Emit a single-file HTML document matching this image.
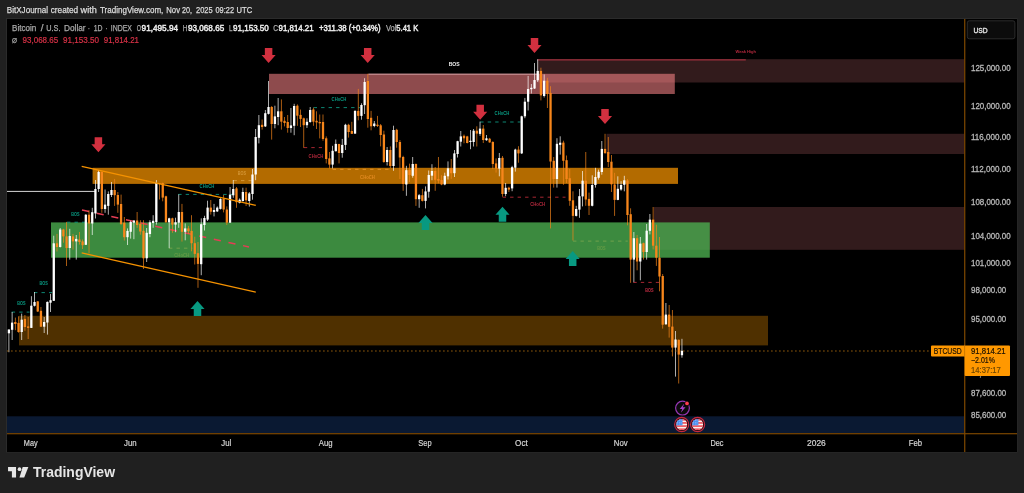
<!DOCTYPE html>
<html lang="en">
<head>
<meta charset="utf-8">
<title>BTCUSD chart</title>
<style>
html,body{margin:0;padding:0;background:#202020;}
body{width:1024px;height:493px;overflow:hidden;position:relative;font-family:"Liberation Sans",sans-serif;}
svg{position:absolute;left:0;top:0;display:block;}
text{font-family:"Liberation Sans",sans-serif;}
.hd{font-size:8.7px;fill:#dcdcdc;stroke:#dcdcdc;stroke-width:0.25px;}
.lg{font-size:8.6px;fill:#a8a8a8;stroke:#a8a8a8;stroke-width:0.25px;}
.lv{font-size:8.6px;fill:#ededed;stroke:#ededed;stroke-width:0.45px;}
.lr{font-size:8.6px;fill:#d93247;stroke:#d93247;stroke-width:0.2px;}
.ax{font-size:8.7px;fill:#b8b8b8;stroke:#b8b8b8;stroke-width:0.3px;}
.tx{font-size:8.3px;fill:#d4d4d4;stroke:#d4d4d4;stroke-width:0.2px;text-anchor:middle;}
.sm{font-size:4.5px;text-anchor:middle;font-weight:bold;}
.pl{font-size:8.7px;fill:#1c1200;stroke:#1c1200;stroke-width:0.2px;}
</style>
</head>
<body>
<svg width="1024" height="493" viewBox="0 0 1024 493">

<rect x="0" y="0" width="1024" height="493" fill="#202020"/>
<rect x="6" y="18" width="1011.5" height="434.5" fill="#2b2b2b"/>
<rect x="7" y="19" width="1010" height="433" fill="#000"/>
<text class="hd" y="12.9"> <tspan x="6.8" textLength="41.3" lengthAdjust="spacingAndGlyphs">BitXJournal</tspan> <tspan x="50.7" textLength="27.5" lengthAdjust="spacingAndGlyphs">created</tspan> <tspan x="80.6" textLength="16.2" lengthAdjust="spacingAndGlyphs">with</tspan> <tspan x="100" textLength="63.3" lengthAdjust="spacingAndGlyphs">TradingView.com,</tspan> <tspan x="166.3" textLength="13.7" lengthAdjust="spacingAndGlyphs">Nov</tspan> <tspan x="182" textLength="10" lengthAdjust="spacingAndGlyphs">20,</tspan> <tspan x="196" textLength="16.6" lengthAdjust="spacingAndGlyphs">2025</tspan> <tspan x="215.5" textLength="18.5" lengthAdjust="spacingAndGlyphs">09:22</tspan> <tspan x="236.6" textLength="15.6" lengthAdjust="spacingAndGlyphs">UTC</tspan> </text>
<g>
<rect x="537.5" y="59.2" width="427" height="23.3" fill="#321b1c"/>
<rect x="606.5" y="133.8" width="358" height="20.2" fill="#321b1c"/>
<rect x="653.8" y="207" width="310.7" height="42.8" fill="#321b1c"/>
<rect x="537.5" y="59.2" width="208.3" height="1.3" fill="#9a2f3b"/>
<rect x="269" y="73.8" width="405.8" height="20.2" fill="#ff868a" fill-opacity="0.556"/>
<rect x="368.4" y="73.7" width="168.8" height="0.9" fill="#dcaaac"/>
<rect x="92.6" y="167.8" width="585.4" height="16.1" fill="#b36b00"/>
<rect x="51" y="222.4" width="658.8" height="35.3" fill="#4caf50" fill-opacity="0.79"/>
<rect x="19" y="315.8" width="749" height="29.6" fill="#4f3000"/>
<rect x="7" y="416.3" width="957.5" height="17" fill="#0a1932"/>
</g>
<rect x="7" y="190.9" width="88" height="1" fill="#d4d4d4"/>
<line x1="11.7" y1="312.1" x2="29.5" y2="312.1" stroke="#10a890" stroke-width="0.8" stroke-dasharray="3.4 4.1" stroke-opacity="1.0"/>
<text class="sm" x="21.4" y="304.9" fill="#089981" fill-opacity="1.0" textLength="8.3" lengthAdjust="spacingAndGlyphs">BOS</text>
<line x1="34" y1="292.6" x2="52.2" y2="292.6" stroke="#10a890" stroke-width="0.8" stroke-dasharray="3.4 4.1" stroke-opacity="1.0"/>
<text class="sm" x="43.7" y="285.4" fill="#089981" fill-opacity="1.0" textLength="8.3" lengthAdjust="spacingAndGlyphs">BOS</text>
<line x1="67" y1="222.2" x2="85.5" y2="222.2" stroke="#10a890" stroke-width="0.8" stroke-dasharray="3.4 4.1" stroke-opacity="1.0"/>
<text class="sm" x="75.4" y="215.6" fill="#089981" fill-opacity="1.0" textLength="8.3" lengthAdjust="spacingAndGlyphs">BOS</text>
<line x1="178.2" y1="194.4" x2="232" y2="194.4" stroke="#10a890" stroke-width="0.8" stroke-dasharray="3.4 4.1" stroke-opacity="1.0"/>
<text class="sm" x="207" y="188.1" fill="#089981" fill-opacity="1.0" textLength="14.8" lengthAdjust="spacingAndGlyphs">CHoCH</text>
<line x1="233.5" y1="180.6" x2="252" y2="180.6" stroke="#e0a64a" stroke-width="0.8" stroke-dasharray="3.4 4.1" stroke-opacity="0.9"/>
<text class="sm" x="242" y="174.6" fill="#d79a3a" fill-opacity="0.9" textLength="8.3" lengthAdjust="spacingAndGlyphs">BOS</text>
<line x1="169" y1="248.2" x2="192.4" y2="248.2" stroke="#8fae52" stroke-width="0.8" stroke-dasharray="3.4 4.1" stroke-opacity="0.8"/>
<text class="sm" x="181.7" y="257.3" fill="#7fa64a" fill-opacity="0.6" textLength="14.8" lengthAdjust="spacingAndGlyphs">CHoCH</text>
<line x1="313.6" y1="107.6" x2="360" y2="107.6" stroke="#10a890" stroke-width="0.8" stroke-dasharray="3.4 4.1" stroke-opacity="1.0"/>
<text class="sm" x="339" y="100.8" fill="#089981" fill-opacity="1.0" textLength="14.8" lengthAdjust="spacingAndGlyphs">CHoCH</text>
<line x1="303.8" y1="147.6" x2="322" y2="147.6" stroke="#d2303f" stroke-width="0.8" stroke-dasharray="3.4 4.1" stroke-opacity="1.0"/>
<text class="sm" x="316" y="157.6" fill="#b3283c" fill-opacity="1.0" textLength="14.8" lengthAdjust="spacingAndGlyphs">CHoCH</text>
<line x1="332.6" y1="169.3" x2="390.4" y2="169.3" stroke="#f09a30" stroke-width="0.8" stroke-dasharray="3.4 4.1" stroke-opacity="1.0"/>
<text class="sm" x="367.5" y="179.1" fill="#e28a20" fill-opacity="1.0" textLength="14.8" lengthAdjust="spacingAndGlyphs">CHoCH</text>
<line x1="480.2" y1="122" x2="520.5" y2="122" stroke="#10a890" stroke-width="0.8" stroke-dasharray="3.4 4.1" stroke-opacity="1.0"/>
<text class="sm" x="502" y="114.7" fill="#089981" fill-opacity="1.0" textLength="14.8" lengthAdjust="spacingAndGlyphs">CHoCH</text>
<line x1="502.6" y1="197.2" x2="565.5" y2="197.2" stroke="#d2303f" stroke-width="0.8" stroke-dasharray="3.4 4.1" stroke-opacity="1.0"/>
<text class="sm" x="537.6" y="206.3" fill="#b3283c" fill-opacity="1.0" textLength="14.8" lengthAdjust="spacingAndGlyphs">CHoCH</text>
<line x1="573" y1="241.1" x2="627.8" y2="241.1" stroke="#8fae52" stroke-width="0.8" stroke-dasharray="3.4 4.1" stroke-opacity="0.8"/>
<text class="sm" x="601.4" y="250.1" fill="#7fa64a" fill-opacity="0.6" textLength="8.3" lengthAdjust="spacingAndGlyphs">BOS</text>
<line x1="633.3" y1="282.4" x2="659" y2="282.4" stroke="#d2303f" stroke-width="0.8" stroke-dasharray="3.4 4.1" stroke-opacity="1.0"/>
<text class="sm" x="649.3" y="292.1" fill="#c22c42" fill-opacity="1.0" textLength="8.3" lengthAdjust="spacingAndGlyphs">BOS</text>
<text class="sm" x="454.2" y="66.4" fill="#f2f2f2" style="font-size:5.5px;font-weight:bold" textLength="11" lengthAdjust="spacingAndGlyphs">BOS</text>
<text class="sm" x="745.8" y="53.2" fill="#b3283c" style="font-size:4px">Weak High</text>
<line x1="82" y1="210" x2="249" y2="247" stroke="#e63d55" stroke-width="1.4" stroke-dasharray="7.2 7.8"/>
<g><rect x="8.5" y="329.5" width="0.8" height="22.7" fill="#ffffff" fill-opacity="0.85"/><rect x="11.71" y="312" width="0.8" height="28" fill="#ffffff" fill-opacity="0.85"/><rect x="14.91" y="317.6" width="0.8" height="12.6" fill="#f7861b" fill-opacity="0.85"/><rect x="18.12" y="316.3" width="0.8" height="16.4" fill="#f7861b" fill-opacity="0.85"/><rect x="21.32" y="313.6" width="0.8" height="26.4" fill="#ffffff" fill-opacity="0.85"/><rect x="24.52" y="315" width="0.8" height="15.8" fill="#f7861b" fill-opacity="0.85"/><rect x="27.73" y="317" width="0.8" height="22" fill="#f7861b" fill-opacity="0.85"/><rect x="30.94" y="296.2" width="0.8" height="31.8" fill="#ffffff" fill-opacity="0.85"/><rect x="34.14" y="292" width="0.8" height="14.5" fill="#ffffff" fill-opacity="0.85"/><rect x="37.34" y="301" width="0.8" height="11" fill="#f7861b" fill-opacity="0.85"/><rect x="40.55" y="307" width="0.8" height="20" fill="#f7861b" fill-opacity="0.85"/><rect x="43.76" y="317" width="0.8" height="16" fill="#ffffff" fill-opacity="0.85"/><rect x="46.96" y="301.5" width="0.8" height="33.1" fill="#ffffff" fill-opacity="0.85"/><rect x="50.16" y="293.9" width="0.8" height="18.1" fill="#ffffff" fill-opacity="0.85"/><rect x="53.37" y="235.7" width="0.8" height="65.3" fill="#ffffff" fill-opacity="0.85"/><rect x="56.58" y="233.9" width="0.8" height="17.6" fill="#f7861b" fill-opacity="0.85"/><rect x="59.78" y="228" width="0.8" height="19.5" fill="#ffffff" fill-opacity="0.85"/><rect x="62.98" y="228.8" width="0.8" height="13.9" fill="#f7861b" fill-opacity="0.85"/><rect x="66.19" y="221.9" width="0.8" height="44.1" fill="#f7861b" fill-opacity="0.85"/><rect x="69.39" y="228.8" width="0.8" height="30.8" fill="#ffffff" fill-opacity="0.85"/><rect x="72.6" y="233.9" width="0.8" height="15.7" fill="#f7861b" fill-opacity="0.85"/><rect x="75.81" y="235" width="0.8" height="24.6" fill="#ffffff" fill-opacity="0.85"/><rect x="79.01" y="232" width="0.8" height="12.6" fill="#f7861b" fill-opacity="0.85"/><rect x="82.22" y="239.5" width="0.8" height="9.5" fill="#f7861b" fill-opacity="0.85"/><rect x="85.42" y="214.2" width="0.8" height="30.8" fill="#ffffff" fill-opacity="0.85"/><rect x="88.62" y="210.3" width="0.8" height="43.1" fill="#f7861b" fill-opacity="0.85"/><rect x="91.83" y="207.8" width="0.8" height="27.2" fill="#ffffff" fill-opacity="0.85"/><rect x="95.03" y="180" width="0.8" height="38.5" fill="#ffffff" fill-opacity="0.85"/><rect x="98.24" y="170" width="0.8" height="22" fill="#ffffff" fill-opacity="0.85"/><rect x="101.45" y="171.3" width="0.8" height="41.5" fill="#f7861b" fill-opacity="0.85"/><rect x="104.65" y="189.5" width="0.8" height="23.3" fill="#ffffff" fill-opacity="0.85"/><rect x="107.86" y="191.4" width="0.8" height="23.3" fill="#ffffff" fill-opacity="0.85"/><rect x="111.06" y="182" width="0.8" height="15" fill="#ffffff" fill-opacity="0.85"/><rect x="114.27" y="178.9" width="0.8" height="27" fill="#f7861b" fill-opacity="0.85"/><rect x="117.47" y="192" width="0.8" height="20.8" fill="#f7861b" fill-opacity="0.85"/><rect x="120.67" y="194.6" width="0.8" height="30.4" fill="#f7861b" fill-opacity="0.85"/><rect x="123.88" y="217" width="0.8" height="23.5" fill="#f7861b" fill-opacity="0.85"/><rect x="127.09" y="228.4" width="0.8" height="16.6" fill="#ffffff" fill-opacity="0.85"/><rect x="130.29" y="220.8" width="0.8" height="17.8" fill="#ffffff" fill-opacity="0.85"/><rect x="133.5" y="220.2" width="0.8" height="19" fill="#ffffff" fill-opacity="0.85"/><rect x="136.7" y="212" width="0.8" height="15.8" fill="#f7861b" fill-opacity="0.85"/><rect x="139.91" y="220.2" width="0.8" height="14.5" fill="#f7861b" fill-opacity="0.85"/><rect x="143.11" y="220.2" width="0.8" height="48.8" fill="#f7861b" fill-opacity="0.85"/><rect x="146.31" y="228" width="0.8" height="34" fill="#ffffff" fill-opacity="0.85"/><rect x="149.52" y="220.2" width="0.8" height="17" fill="#ffffff" fill-opacity="0.85"/><rect x="152.72" y="215.2" width="0.8" height="12.6" fill="#ffffff" fill-opacity="0.85"/><rect x="155.93" y="180.1" width="0.8" height="44.5" fill="#ffffff" fill-opacity="0.85"/><rect x="159.13" y="183" width="0.8" height="16.5" fill="#f7861b" fill-opacity="0.85"/><rect x="162.34" y="182.5" width="0.8" height="18.8" fill="#f7861b" fill-opacity="0.85"/><rect x="165.55" y="195.7" width="0.8" height="27" fill="#f7861b" fill-opacity="0.85"/><rect x="168.75" y="217.7" width="0.8" height="30.5" fill="#ffffff" fill-opacity="0.85"/><rect x="171.96" y="217.7" width="0.8" height="15.1" fill="#f7861b" fill-opacity="0.85"/><rect x="175.16" y="217.7" width="0.8" height="14.5" fill="#ffffff" fill-opacity="0.85"/><rect x="178.37" y="194.4" width="0.8" height="33.4" fill="#ffffff" fill-opacity="0.85"/><rect x="181.57" y="203.9" width="0.8" height="37.7" fill="#f7861b" fill-opacity="0.85"/><rect x="184.78" y="223.4" width="0.8" height="16.9" fill="#ffffff" fill-opacity="0.85"/><rect x="187.98" y="225.9" width="0.8" height="8.1" fill="#f7861b" fill-opacity="0.85"/><rect x="191.19" y="215.2" width="0.8" height="36.1" fill="#f7861b" fill-opacity="0.85"/><rect x="194.39" y="236.7" width="0.8" height="27.8" fill="#f7861b" fill-opacity="0.85"/><rect x="197.59" y="242" width="0.8" height="45.8" fill="#f7861b" fill-opacity="0.85"/><rect x="200.8" y="218.3" width="0.8" height="56.9" fill="#ffffff" fill-opacity="0.85"/><rect x="204" y="215.8" width="0.8" height="14.7" fill="#ffffff" fill-opacity="0.85"/><rect x="207.21" y="200.7" width="0.8" height="20.3" fill="#ffffff" fill-opacity="0.85"/><rect x="210.41" y="200" width="0.8" height="14.6" fill="#f7861b" fill-opacity="0.85"/><rect x="213.62" y="203.9" width="0.8" height="12.5" fill="#ffffff" fill-opacity="0.85"/><rect x="216.83" y="206.4" width="0.8" height="5.6" fill="#ffffff" fill-opacity="0.85"/><rect x="220.03" y="198.2" width="0.8" height="11.3" fill="#ffffff" fill-opacity="0.85"/><rect x="223.24" y="195" width="0.8" height="17.4" fill="#f7861b" fill-opacity="0.85"/><rect x="226.44" y="206.4" width="0.8" height="18.6" fill="#f7861b" fill-opacity="0.85"/><rect x="229.65" y="187" width="0.8" height="36" fill="#ffffff" fill-opacity="0.85"/><rect x="232.85" y="180" width="0.8" height="17.8" fill="#ffffff" fill-opacity="0.85"/><rect x="236.06" y="187" width="0.8" height="20.8" fill="#f7861b" fill-opacity="0.85"/><rect x="239.26" y="198.4" width="0.8" height="5" fill="#ffffff" fill-opacity="0.85"/><rect x="242.47" y="187.7" width="0.8" height="13.9" fill="#ffffff" fill-opacity="0.85"/><rect x="245.67" y="187.7" width="0.8" height="18.3" fill="#f7861b" fill-opacity="0.85"/><rect x="248.88" y="192" width="0.8" height="14.6" fill="#ffffff" fill-opacity="0.85"/><rect x="252.08" y="168.9" width="0.8" height="30.8" fill="#ffffff" fill-opacity="0.85"/><rect x="255.28" y="129" width="0.8" height="51.2" fill="#ffffff" fill-opacity="0.85"/><rect x="258.49" y="115" width="0.8" height="28.4" fill="#ffffff" fill-opacity="0.85"/><rect x="261.69" y="119.5" width="0.8" height="10.1" fill="#f7861b" fill-opacity="0.85"/><rect x="264.9" y="110" width="0.8" height="17" fill="#ffffff" fill-opacity="0.85"/><rect x="268.11" y="81" width="0.8" height="33.5" fill="#ffffff" fill-opacity="0.85"/><rect x="271.31" y="106" width="0.8" height="33.6" fill="#f7861b" fill-opacity="0.85"/><rect x="274.51" y="105.7" width="0.8" height="22.6" fill="#ffffff" fill-opacity="0.85"/><rect x="277.72" y="98" width="0.8" height="27.2" fill="#ffffff" fill-opacity="0.85"/><rect x="280.93" y="99.4" width="0.8" height="30.2" fill="#f7861b" fill-opacity="0.85"/><rect x="284.13" y="117" width="0.8" height="9.4" fill="#f7861b" fill-opacity="0.85"/><rect x="287.33" y="115" width="0.8" height="17.7" fill="#f7861b" fill-opacity="0.85"/><rect x="290.54" y="108" width="0.8" height="24.7" fill="#ffffff" fill-opacity="0.85"/><rect x="293.75" y="103.8" width="0.8" height="31.4" fill="#ffffff" fill-opacity="0.85"/><rect x="296.95" y="104.4" width="0.8" height="21.4" fill="#f7861b" fill-opacity="0.85"/><rect x="300.16" y="109.5" width="0.8" height="17.5" fill="#f7861b" fill-opacity="0.85"/><rect x="303.36" y="117.6" width="0.8" height="30.2" fill="#f7861b" fill-opacity="0.85"/><rect x="306.56" y="118.3" width="0.8" height="9.7" fill="#ffffff" fill-opacity="0.85"/><rect x="309.77" y="107" width="0.8" height="15.7" fill="#ffffff" fill-opacity="0.85"/><rect x="312.98" y="107.6" width="0.8" height="18.2" fill="#f7861b" fill-opacity="0.85"/><rect x="316.18" y="111.3" width="0.8" height="17.7" fill="#f7861b" fill-opacity="0.85"/><rect x="319.38" y="114.5" width="0.8" height="23.9" fill="#f7861b" fill-opacity="0.85"/><rect x="322.59" y="114.5" width="0.8" height="26.3" fill="#f7861b" fill-opacity="0.85"/><rect x="325.8" y="136.4" width="0.8" height="27" fill="#f7861b" fill-opacity="0.85"/><rect x="329" y="152" width="0.8" height="16.4" fill="#f7861b" fill-opacity="0.85"/><rect x="332.2" y="145.8" width="0.8" height="22.6" fill="#ffffff" fill-opacity="0.85"/><rect x="335.41" y="139.5" width="0.8" height="12" fill="#ffffff" fill-opacity="0.85"/><rect x="338.62" y="143.8" width="0.8" height="19.6" fill="#f7861b" fill-opacity="0.85"/><rect x="341.82" y="138.9" width="0.8" height="18.8" fill="#ffffff" fill-opacity="0.85"/><rect x="345.03" y="123.8" width="0.8" height="26.2" fill="#ffffff" fill-opacity="0.85"/><rect x="348.23" y="123.8" width="0.8" height="13.8" fill="#f7861b" fill-opacity="0.85"/><rect x="351.44" y="121.8" width="0.8" height="12.2" fill="#f7861b" fill-opacity="0.85"/><rect x="354.64" y="110.3" width="0.8" height="23.7" fill="#ffffff" fill-opacity="0.85"/><rect x="357.85" y="88.9" width="0.8" height="31.4" fill="#f7861b" fill-opacity="0.85"/><rect x="361.05" y="103.3" width="0.8" height="16.4" fill="#ffffff" fill-opacity="0.85"/><rect x="364.25" y="78.2" width="0.8" height="35.8" fill="#ffffff" fill-opacity="0.85"/><rect x="367.46" y="73.8" width="0.8" height="53.9" fill="#f7861b" fill-opacity="0.85"/><rect x="370.67" y="110.9" width="0.8" height="19.4" fill="#f7861b" fill-opacity="0.85"/><rect x="373.87" y="121" width="0.8" height="6.2" fill="#ffffff" fill-opacity="0.85"/><rect x="377.07" y="115.9" width="0.8" height="11.1" fill="#f7861b" fill-opacity="0.85"/><rect x="380.28" y="124" width="0.8" height="22.4" fill="#f7861b" fill-opacity="0.85"/><rect x="383.49" y="130.7" width="0.8" height="32.1" fill="#f7861b" fill-opacity="0.85"/><rect x="386.69" y="147" width="0.8" height="18.5" fill="#ffffff" fill-opacity="0.85"/><rect x="389.89" y="146.4" width="0.8" height="21.6" fill="#f7861b" fill-opacity="0.85"/><rect x="393.1" y="125.7" width="0.8" height="45.1" fill="#ffffff" fill-opacity="0.85"/><rect x="396.31" y="128.8" width="0.8" height="18.9" fill="#f7861b" fill-opacity="0.85"/><rect x="399.51" y="140" width="0.8" height="39" fill="#f7861b" fill-opacity="0.85"/><rect x="402.72" y="155.8" width="0.8" height="35" fill="#f7861b" fill-opacity="0.85"/><rect x="405.92" y="165.8" width="0.8" height="30" fill="#ffffff" fill-opacity="0.85"/><rect x="409.12" y="163.6" width="0.8" height="18.4" fill="#f7861b" fill-opacity="0.85"/><rect x="412.33" y="157" width="0.8" height="20.7" fill="#ffffff" fill-opacity="0.85"/><rect x="415.54" y="163.5" width="0.8" height="42.4" fill="#f7861b" fill-opacity="0.85"/><rect x="418.74" y="194" width="0.8" height="13.8" fill="#ffffff" fill-opacity="0.85"/><rect x="421.94" y="188.9" width="0.8" height="12.6" fill="#f7861b" fill-opacity="0.85"/><rect x="425.15" y="186.4" width="0.8" height="22" fill="#ffffff" fill-opacity="0.85"/><rect x="428.36" y="170.5" width="0.8" height="27.2" fill="#ffffff" fill-opacity="0.85"/><rect x="431.56" y="164.2" width="0.8" height="16" fill="#ffffff" fill-opacity="0.85"/><rect x="434.76" y="167" width="0.8" height="23.8" fill="#f7861b" fill-opacity="0.85"/><rect x="437.97" y="157" width="0.8" height="26.3" fill="#f7861b" fill-opacity="0.85"/><rect x="441.18" y="175.2" width="0.8" height="10" fill="#f7861b" fill-opacity="0.85"/><rect x="444.38" y="172.7" width="0.8" height="12.5" fill="#ffffff" fill-opacity="0.85"/><rect x="447.59" y="161.4" width="0.8" height="18.1" fill="#ffffff" fill-opacity="0.85"/><rect x="450.79" y="159" width="0.8" height="19.9" fill="#f7861b" fill-opacity="0.85"/><rect x="454" y="150" width="0.8" height="27" fill="#ffffff" fill-opacity="0.85"/><rect x="457.2" y="140.8" width="0.8" height="16.7" fill="#ffffff" fill-opacity="0.85"/><rect x="460.41" y="131" width="0.8" height="15.5" fill="#ffffff" fill-opacity="0.85"/><rect x="463.61" y="134.5" width="0.8" height="8.8" fill="#f7861b" fill-opacity="0.85"/><rect x="466.81" y="135.8" width="0.8" height="7.6" fill="#f7861b" fill-opacity="0.85"/><rect x="470.02" y="130" width="0.8" height="19.2" fill="#ffffff" fill-opacity="0.85"/><rect x="473.23" y="129" width="0.8" height="17.5" fill="#ffffff" fill-opacity="0.85"/><rect x="476.43" y="126.3" width="0.8" height="20.2" fill="#f7861b" fill-opacity="0.85"/><rect x="479.63" y="121.6" width="0.8" height="14.2" fill="#ffffff" fill-opacity="0.85"/><rect x="482.84" y="125" width="0.8" height="18" fill="#f7861b" fill-opacity="0.85"/><rect x="486.05" y="135" width="0.8" height="5.8" fill="#ffffff" fill-opacity="0.85"/><rect x="489.25" y="137.9" width="0.8" height="4.8" fill="#f7861b" fill-opacity="0.85"/><rect x="492.45" y="141.2" width="0.8" height="27.8" fill="#f7861b" fill-opacity="0.85"/><rect x="495.66" y="158.4" width="0.8" height="14.2" fill="#f7861b" fill-opacity="0.85"/><rect x="498.87" y="153" width="0.8" height="23.3" fill="#ffffff" fill-opacity="0.85"/><rect x="502.07" y="156" width="0.8" height="40.7" fill="#f7861b" fill-opacity="0.85"/><rect x="505.28" y="183" width="0.8" height="13.2" fill="#ffffff" fill-opacity="0.85"/><rect x="508.48" y="186.7" width="0.8" height="5.3" fill="#f7861b" fill-opacity="0.85"/><rect x="511.69" y="165.8" width="0.8" height="25.4" fill="#ffffff" fill-opacity="0.85"/><rect x="514.89" y="148.7" width="0.8" height="22.9" fill="#ffffff" fill-opacity="0.85"/><rect x="518.1" y="146.2" width="0.8" height="16.5" fill="#f7861b" fill-opacity="0.85"/><rect x="521.3" y="115.7" width="0.8" height="38.3" fill="#ffffff" fill-opacity="0.85"/><rect x="524.5" y="97.9" width="0.8" height="20.3" fill="#ffffff" fill-opacity="0.85"/><rect x="527.71" y="75.9" width="0.8" height="34.6" fill="#ffffff" fill-opacity="0.85"/><rect x="530.91" y="84" width="0.8" height="9.5" fill="#ffffff" fill-opacity="0.85"/><rect x="534.12" y="63" width="0.8" height="26" fill="#ffffff" fill-opacity="0.85"/><rect x="537.33" y="59.3" width="0.8" height="22.7" fill="#ffffff" fill-opacity="0.85"/><rect x="540.53" y="67.7" width="0.8" height="32.7" fill="#f7861b" fill-opacity="0.85"/><rect x="543.74" y="74.4" width="0.8" height="23.1" fill="#ffffff" fill-opacity="0.85"/><rect x="546.94" y="77.8" width="0.8" height="30.2" fill="#f7861b" fill-opacity="0.85"/><rect x="550.14" y="86.2" width="0.8" height="142.2" fill="#f7861b" fill-opacity="0.85"/><rect x="553.35" y="157" width="0.8" height="30.6" fill="#f7861b" fill-opacity="0.85"/><rect x="556.56" y="138.2" width="0.8" height="49.4" fill="#ffffff" fill-opacity="0.85"/><rect x="559.76" y="136.3" width="0.8" height="18.3" fill="#ffffff" fill-opacity="0.85"/><rect x="562.97" y="140.7" width="0.8" height="44.1" fill="#f7861b" fill-opacity="0.85"/><rect x="566.17" y="155.5" width="0.8" height="27.5" fill="#f7861b" fill-opacity="0.85"/><rect x="569.38" y="169" width="0.8" height="36.8" fill="#f7861b" fill-opacity="0.85"/><rect x="572.58" y="191.3" width="0.8" height="49.2" fill="#f7861b" fill-opacity="0.85"/><rect x="575.78" y="205.8" width="0.8" height="10.7" fill="#ffffff" fill-opacity="0.85"/><rect x="578.99" y="189" width="0.8" height="28.8" fill="#ffffff" fill-opacity="0.85"/><rect x="582.2" y="171" width="0.8" height="35.4" fill="#ffffff" fill-opacity="0.85"/><rect x="585.4" y="152" width="0.8" height="53.8" fill="#f7861b" fill-opacity="0.85"/><rect x="588.61" y="192.6" width="0.8" height="22.4" fill="#f7861b" fill-opacity="0.85"/><rect x="591.81" y="175.3" width="0.8" height="31.1" fill="#ffffff" fill-opacity="0.85"/><rect x="595.01" y="167.8" width="0.8" height="19.8" fill="#ffffff" fill-opacity="0.85"/><rect x="598.22" y="169.6" width="0.8" height="10" fill="#ffffff" fill-opacity="0.85"/><rect x="601.43" y="141" width="0.8" height="33.7" fill="#ffffff" fill-opacity="0.85"/><rect x="604.63" y="133.8" width="0.8" height="20.2" fill="#f7861b" fill-opacity="0.85"/><rect x="607.84" y="137" width="0.8" height="30" fill="#f7861b" fill-opacity="0.85"/><rect x="611.04" y="155" width="0.8" height="37" fill="#f7861b" fill-opacity="0.85"/><rect x="614.25" y="172.8" width="0.8" height="43.1" fill="#f7861b" fill-opacity="0.85"/><rect x="617.45" y="176.3" width="0.8" height="23.9" fill="#ffffff" fill-opacity="0.85"/><rect x="620.65" y="181.2" width="0.8" height="9.5" fill="#ffffff" fill-opacity="0.85"/><rect x="623.86" y="175.8" width="0.8" height="15.5" fill="#ffffff" fill-opacity="0.85"/><rect x="627.07" y="179" width="0.8" height="46.3" fill="#f7861b" fill-opacity="0.85"/><rect x="630.27" y="208.3" width="0.8" height="74.5" fill="#f7861b" fill-opacity="0.85"/><rect x="633.48" y="232" width="0.8" height="50.2" fill="#ffffff" fill-opacity="0.85"/><rect x="636.68" y="235" width="0.8" height="35.3" fill="#f7861b" fill-opacity="0.85"/><rect x="639.88" y="237" width="0.8" height="43.3" fill="#ffffff" fill-opacity="0.85"/><rect x="643.09" y="242.6" width="0.8" height="17" fill="#f7861b" fill-opacity="0.85"/><rect x="646.29" y="224" width="0.8" height="35.6" fill="#ffffff" fill-opacity="0.85"/><rect x="649.5" y="214" width="0.8" height="20.4" fill="#ffffff" fill-opacity="0.85"/><rect x="652.71" y="207" width="0.8" height="42.5" fill="#f7861b" fill-opacity="0.85"/><rect x="655.91" y="224.7" width="0.8" height="41.2" fill="#f7861b" fill-opacity="0.85"/><rect x="659.12" y="237" width="0.8" height="54.3" fill="#f7861b" fill-opacity="0.85"/><rect x="662.32" y="274" width="0.8" height="54.6" fill="#f7861b" fill-opacity="0.85"/><rect x="665.52" y="303" width="0.8" height="21.7" fill="#ffffff" fill-opacity="0.85"/><rect x="668.73" y="305" width="0.8" height="32.6" fill="#f7861b" fill-opacity="0.85"/><rect x="671.94" y="310" width="0.8" height="46.4" fill="#f7861b" fill-opacity="0.85"/><rect x="675.14" y="331" width="0.8" height="45.6" fill="#ffffff" fill-opacity="0.85"/><rect x="678.35" y="339.5" width="0.8" height="44" fill="#f7861b" fill-opacity="0.85"/><rect x="681.55" y="338.8" width="0.8" height="18.9" fill="#ffffff" fill-opacity="0.85"/></g>
<g><rect x="7.75" y="329.5" width="2.3" height="3.8" fill="#ffffff"/><rect x="10.96" y="322.6" width="2.3" height="7.2" fill="#ffffff"/><rect x="14.16" y="322" width="2.3" height="2" fill="#f7861b"/><rect x="17.37" y="322.9" width="2.3" height="9.1" fill="#f7861b"/><rect x="20.57" y="319.7" width="2.3" height="12.3" fill="#ffffff"/><rect x="23.77" y="318.9" width="2.3" height="8.1" fill="#f7861b"/><rect x="26.98" y="326.4" width="2.3" height="1.5" fill="#f7861b"/><rect x="30.19" y="305.7" width="2.3" height="22.2" fill="#ffffff"/><rect x="33.39" y="302" width="2.3" height="3.8" fill="#ffffff"/><rect x="36.59" y="301.4" width="2.3" height="10.1" fill="#f7861b"/><rect x="39.8" y="310.8" width="2.3" height="15.9" fill="#f7861b"/><rect x="43.01" y="322" width="2.3" height="4.7" fill="#ffffff"/><rect x="46.21" y="301.9" width="2.3" height="20.6" fill="#ffffff"/><rect x="49.41" y="300.2" width="2.3" height="2.5" fill="#ffffff"/><rect x="52.62" y="243.3" width="2.3" height="57.5" fill="#ffffff"/><rect x="55.83" y="243.3" width="2.3" height="3.7" fill="#f7861b"/><rect x="59.03" y="229.5" width="2.3" height="17.5" fill="#ffffff"/><rect x="62.23" y="229.5" width="2.3" height="6.9" fill="#f7861b"/><rect x="65.44" y="236.4" width="2.3" height="11.6" fill="#f7861b"/><rect x="68.64" y="236" width="2.3" height="12" fill="#ffffff"/><rect x="71.85" y="236.4" width="2.3" height="5" fill="#f7861b"/><rect x="75.06" y="238.9" width="2.3" height="2.5" fill="#ffffff"/><rect x="78.26" y="239.5" width="2.3" height="2.5" fill="#f7861b"/><rect x="81.47" y="241.4" width="2.3" height="3.8" fill="#f7861b"/><rect x="84.67" y="214.7" width="2.3" height="30.1" fill="#ffffff"/><rect x="87.88" y="214.7" width="2.3" height="8.8" fill="#f7861b"/><rect x="91.08" y="212.2" width="2.3" height="11.3" fill="#ffffff"/><rect x="94.28" y="189" width="2.3" height="24.4" fill="#ffffff"/><rect x="97.49" y="172" width="2.3" height="17" fill="#ffffff"/><rect x="100.7" y="172" width="2.3" height="37" fill="#f7861b"/><rect x="103.9" y="204.6" width="2.3" height="4.4" fill="#ffffff"/><rect x="107.11" y="194" width="2.3" height="11.9" fill="#ffffff"/><rect x="110.31" y="190" width="2.3" height="5" fill="#ffffff"/><rect x="113.52" y="190" width="2.3" height="5.2" fill="#f7861b"/><rect x="116.72" y="195" width="2.3" height="9.6" fill="#f7861b"/><rect x="119.92" y="204" width="2.3" height="20" fill="#f7861b"/><rect x="123.13" y="222.7" width="2.3" height="14.5" fill="#f7861b"/><rect x="126.34" y="230.9" width="2.3" height="6.3" fill="#ffffff"/><rect x="129.54" y="222" width="2.3" height="9.8" fill="#ffffff"/><rect x="132.75" y="220.5" width="2.3" height="2.2" fill="#ffffff"/><rect x="135.95" y="220.5" width="2.3" height="4.5" fill="#f7861b"/><rect x="139.16" y="224" width="2.3" height="7.5" fill="#f7861b"/><rect x="142.36" y="230.9" width="2.3" height="27.4" fill="#f7861b"/><rect x="145.56" y="232.8" width="2.3" height="25.5" fill="#ffffff"/><rect x="148.77" y="222.3" width="2.3" height="11.7" fill="#ffffff"/><rect x="151.97" y="220.8" width="2.3" height="2.2" fill="#ffffff"/><rect x="155.18" y="183" width="2.3" height="39" fill="#ffffff"/><rect x="158.38" y="183" width="2.3" height="1.2" fill="#f7861b"/><rect x="161.59" y="183" width="2.3" height="14.6" fill="#f7861b"/><rect x="164.8" y="196.3" width="2.3" height="26" fill="#f7861b"/><rect x="168" y="218.3" width="2.3" height="4" fill="#ffffff"/><rect x="171.21" y="218.3" width="2.3" height="6.3" fill="#f7861b"/><rect x="174.41" y="222.3" width="2.3" height="2.3" fill="#ffffff"/><rect x="177.62" y="212" width="2.3" height="10.7" fill="#ffffff"/><rect x="180.82" y="212" width="2.3" height="19.8" fill="#f7861b"/><rect x="184.03" y="228.4" width="2.3" height="3.4" fill="#ffffff"/><rect x="187.23" y="228.4" width="2.3" height="2.9" fill="#f7861b"/><rect x="190.44" y="230.9" width="2.3" height="12.3" fill="#f7861b"/><rect x="193.64" y="243.2" width="2.3" height="10.7" fill="#f7861b"/><rect x="196.84" y="253.2" width="2.3" height="10.7" fill="#f7861b"/><rect x="200.05" y="224.2" width="2.3" height="40" fill="#ffffff"/><rect x="203.25" y="218" width="2.3" height="7" fill="#ffffff"/><rect x="206.46" y="207.6" width="2.3" height="12" fill="#ffffff"/><rect x="209.66" y="207.6" width="2.3" height="4.1" fill="#f7861b"/><rect x="212.87" y="210" width="2.3" height="2" fill="#ffffff"/><rect x="216.08" y="207.6" width="2.3" height="3.8" fill="#ffffff"/><rect x="219.28" y="199" width="2.3" height="9.9" fill="#ffffff"/><rect x="222.49" y="199" width="2.3" height="10.5" fill="#f7861b"/><rect x="225.69" y="209.5" width="2.3" height="13.2" fill="#f7861b"/><rect x="228.9" y="194.6" width="2.3" height="28.1" fill="#ffffff"/><rect x="232.1" y="189" width="2.3" height="6.3" fill="#ffffff"/><rect x="235.31" y="188.4" width="2.3" height="13.8" fill="#f7861b"/><rect x="238.51" y="199.7" width="2.3" height="3.1" fill="#ffffff"/><rect x="241.72" y="192" width="2.3" height="9" fill="#ffffff"/><rect x="244.92" y="192" width="2.3" height="8.3" fill="#f7861b"/><rect x="248.12" y="193.4" width="2.3" height="7.6" fill="#ffffff"/><rect x="251.33" y="174.5" width="2.3" height="19.5" fill="#ffffff"/><rect x="254.53" y="137" width="2.3" height="37.5" fill="#ffffff"/><rect x="257.74" y="125.2" width="2.3" height="12.6" fill="#ffffff"/><rect x="260.94" y="124.8" width="2.3" height="2.2" fill="#f7861b"/><rect x="264.15" y="113.2" width="2.3" height="13.2" fill="#ffffff"/><rect x="267.36" y="107" width="2.3" height="6.9" fill="#ffffff"/><rect x="270.56" y="107" width="2.3" height="17" fill="#f7861b"/><rect x="273.76" y="116.4" width="2.3" height="7.6" fill="#ffffff"/><rect x="276.97" y="111.3" width="2.3" height="5.7" fill="#ffffff"/><rect x="280.18" y="111.3" width="2.3" height="10.4" fill="#f7861b"/><rect x="283.38" y="120.8" width="2.3" height="2.2" fill="#f7861b"/><rect x="286.58" y="122" width="2.3" height="6" fill="#f7861b"/><rect x="289.79" y="125.4" width="2.3" height="2.6" fill="#ffffff"/><rect x="293" y="106" width="2.3" height="19.8" fill="#ffffff"/><rect x="296.2" y="105.7" width="2.3" height="10" fill="#f7861b"/><rect x="299.41" y="114.9" width="2.3" height="4" fill="#f7861b"/><rect x="302.61" y="118.3" width="2.3" height="6.9" fill="#f7861b"/><rect x="305.81" y="121.8" width="2.3" height="3.4" fill="#ffffff"/><rect x="309.02" y="110" width="2.3" height="12" fill="#ffffff"/><rect x="312.23" y="109.5" width="2.3" height="12.2" fill="#f7861b"/><rect x="315.43" y="120.8" width="2.3" height="1.6" fill="#f7861b"/><rect x="318.63" y="122" width="2.3" height="1.3" fill="#f7861b"/><rect x="321.84" y="122" width="2.3" height="17" fill="#f7861b"/><rect x="325.05" y="138.3" width="2.3" height="20.7" fill="#f7861b"/><rect x="328.25" y="158.4" width="2.3" height="6.2" fill="#f7861b"/><rect x="331.45" y="150.8" width="2.3" height="13.8" fill="#ffffff"/><rect x="334.66" y="143.9" width="2.3" height="7.3" fill="#ffffff"/><rect x="337.87" y="144" width="2.3" height="9" fill="#f7861b"/><rect x="341.07" y="144.9" width="2.3" height="8.1" fill="#ffffff"/><rect x="344.28" y="124.8" width="2.3" height="20.1" fill="#ffffff"/><rect x="347.48" y="124.8" width="2.3" height="7.2" fill="#f7861b"/><rect x="350.69" y="131" width="2.3" height="2.8" fill="#f7861b"/><rect x="353.89" y="110.9" width="2.3" height="22.7" fill="#ffffff"/><rect x="357.1" y="110.9" width="2.3" height="5" fill="#f7861b"/><rect x="360.3" y="105" width="2.3" height="10.9" fill="#ffffff"/><rect x="363.5" y="82" width="2.3" height="23.2" fill="#ffffff"/><rect x="366.71" y="81" width="2.3" height="38" fill="#f7861b"/><rect x="369.92" y="117.8" width="2.3" height="8.5" fill="#f7861b"/><rect x="373.12" y="123.5" width="2.3" height="2.5" fill="#ffffff"/><rect x="376.32" y="124.7" width="2.3" height="1.3" fill="#f7861b"/><rect x="379.53" y="125.3" width="2.3" height="9.7" fill="#f7861b"/><rect x="382.74" y="134.5" width="2.3" height="27.5" fill="#f7861b"/><rect x="385.94" y="150" width="2.3" height="12" fill="#ffffff"/><rect x="389.14" y="150" width="2.3" height="16" fill="#f7861b"/><rect x="392.35" y="130" width="2.3" height="36" fill="#ffffff"/><rect x="395.56" y="129.8" width="2.3" height="12.2" fill="#f7861b"/><rect x="398.76" y="142" width="2.3" height="15.5" fill="#f7861b"/><rect x="401.97" y="157" width="2.3" height="26.9" fill="#f7861b"/><rect x="405.17" y="170.2" width="2.3" height="14.3" fill="#ffffff"/><rect x="408.38" y="170" width="2.3" height="5" fill="#f7861b"/><rect x="411.58" y="164" width="2.3" height="11.8" fill="#ffffff"/><rect x="414.79" y="164" width="2.3" height="35.2" fill="#f7861b"/><rect x="417.99" y="195.2" width="2.3" height="4" fill="#ffffff"/><rect x="421.19" y="195.2" width="2.3" height="5.7" fill="#f7861b"/><rect x="424.4" y="191.4" width="2.3" height="9.5" fill="#ffffff"/><rect x="427.61" y="175" width="2.3" height="16.7" fill="#ffffff"/><rect x="430.81" y="171" width="2.3" height="4.7" fill="#ffffff"/><rect x="434.01" y="171" width="2.3" height="8.8" fill="#f7861b"/><rect x="437.22" y="179" width="2.3" height="1.6" fill="#f7861b"/><rect x="440.43" y="180" width="2.3" height="4.5" fill="#f7861b"/><rect x="443.63" y="175.8" width="2.3" height="8.7" fill="#ffffff"/><rect x="446.84" y="168.3" width="2.3" height="8" fill="#ffffff"/><rect x="450.04" y="168.2" width="2.3" height="5" fill="#f7861b"/><rect x="453.25" y="153.4" width="2.3" height="19.8" fill="#ffffff"/><rect x="456.45" y="141.2" width="2.3" height="12.8" fill="#ffffff"/><rect x="459.66" y="136.4" width="2.3" height="5.3" fill="#ffffff"/><rect x="462.86" y="135.8" width="2.3" height="2.5" fill="#f7861b"/><rect x="466.06" y="136.4" width="2.3" height="6.6" fill="#f7861b"/><rect x="469.27" y="140.8" width="2.3" height="1.2" fill="#ffffff"/><rect x="472.48" y="130.7" width="2.3" height="11.3" fill="#ffffff"/><rect x="475.68" y="130.7" width="2.3" height="2.9" fill="#f7861b"/><rect x="478.88" y="128.6" width="2.3" height="5.3" fill="#ffffff"/><rect x="482.09" y="128.6" width="2.3" height="11.4" fill="#f7861b"/><rect x="485.3" y="138.3" width="2.3" height="1.9" fill="#ffffff"/><rect x="488.5" y="138.7" width="2.3" height="3.7" fill="#f7861b"/><rect x="491.7" y="142" width="2.3" height="22" fill="#f7861b"/><rect x="494.91" y="163.4" width="2.3" height="5.2" fill="#f7861b"/><rect x="498.12" y="158" width="2.3" height="10.6" fill="#ffffff"/><rect x="501.32" y="157.8" width="2.3" height="36.2" fill="#f7861b"/><rect x="504.53" y="187.8" width="2.3" height="6.2" fill="#ffffff"/><rect x="507.73" y="187.7" width="2.3" height="1.9" fill="#f7861b"/><rect x="510.94" y="167.2" width="2.3" height="21.2" fill="#ffffff"/><rect x="514.14" y="149.6" width="2.3" height="18.1" fill="#ffffff"/><rect x="517.35" y="149.6" width="2.3" height="3.8" fill="#f7861b"/><rect x="520.55" y="116.3" width="2.3" height="37.1" fill="#ffffff"/><rect x="523.75" y="101.7" width="2.3" height="14.6" fill="#ffffff"/><rect x="526.96" y="89" width="2.3" height="12.7" fill="#ffffff"/><rect x="530.16" y="87.8" width="2.3" height="1.4" fill="#ffffff"/><rect x="533.37" y="80" width="2.3" height="8.5" fill="#ffffff"/><rect x="536.58" y="70.9" width="2.3" height="9.4" fill="#ffffff"/><rect x="539.78" y="70.9" width="2.3" height="24.5" fill="#f7861b"/><rect x="542.99" y="80.7" width="2.3" height="15.3" fill="#ffffff"/><rect x="546.19" y="80.7" width="2.3" height="13.3" fill="#f7861b"/><rect x="549.39" y="92.9" width="2.3" height="68.6" fill="#f7861b"/><rect x="552.6" y="160.8" width="2.3" height="18.2" fill="#f7861b"/><rect x="555.81" y="143.8" width="2.3" height="35.2" fill="#ffffff"/><rect x="559.01" y="142.7" width="2.3" height="2.1" fill="#ffffff"/><rect x="562.22" y="142.6" width="2.3" height="18.2" fill="#f7861b"/><rect x="565.42" y="160.2" width="2.3" height="18.8" fill="#f7861b"/><rect x="568.62" y="178.2" width="2.3" height="22.6" fill="#f7861b"/><rect x="571.83" y="200.3" width="2.3" height="15.6" fill="#f7861b"/><rect x="575.03" y="209" width="2.3" height="6.9" fill="#ffffff"/><rect x="578.24" y="196.2" width="2.3" height="13.4" fill="#ffffff"/><rect x="581.45" y="180.7" width="2.3" height="15.7" fill="#ffffff"/><rect x="584.65" y="180.7" width="2.3" height="18.8" fill="#f7861b"/><rect x="587.86" y="198.9" width="2.3" height="6.9" fill="#f7861b"/><rect x="591.06" y="185" width="2.3" height="20.8" fill="#ffffff"/><rect x="594.26" y="177" width="2.3" height="8" fill="#ffffff"/><rect x="597.47" y="171.8" width="2.3" height="6" fill="#ffffff"/><rect x="600.68" y="148.9" width="2.3" height="23.1" fill="#ffffff"/><rect x="603.88" y="148.9" width="2.3" height="4.1" fill="#f7861b"/><rect x="607.09" y="152" width="2.3" height="10" fill="#f7861b"/><rect x="610.29" y="161.7" width="2.3" height="22.6" fill="#f7861b"/><rect x="613.5" y="184.5" width="2.3" height="15.4" fill="#f7861b"/><rect x="616.7" y="188.8" width="2.3" height="11.1" fill="#ffffff"/><rect x="619.9" y="185" width="2.3" height="4.5" fill="#ffffff"/><rect x="623.11" y="180.3" width="2.3" height="4.5" fill="#ffffff"/><rect x="626.32" y="180.5" width="2.3" height="34.5" fill="#f7861b"/><rect x="629.52" y="214.2" width="2.3" height="45.4" fill="#f7861b"/><rect x="632.73" y="238.2" width="2.3" height="21.4" fill="#ffffff"/><rect x="635.93" y="238.2" width="2.3" height="23.3" fill="#f7861b"/><rect x="639.13" y="243.6" width="2.3" height="17.9" fill="#ffffff"/><rect x="642.34" y="243.2" width="2.3" height="8.8" fill="#f7861b"/><rect x="645.54" y="230.7" width="2.3" height="21.3" fill="#ffffff"/><rect x="648.75" y="219.6" width="2.3" height="11.2" fill="#ffffff"/><rect x="651.96" y="219.6" width="2.3" height="26.1" fill="#f7861b"/><rect x="655.16" y="245.7" width="2.3" height="12" fill="#f7861b"/><rect x="658.37" y="257.7" width="2.3" height="18.8" fill="#f7861b"/><rect x="661.57" y="276" width="2.3" height="48.7" fill="#f7861b"/><rect x="664.77" y="314.6" width="2.3" height="9.7" fill="#ffffff"/><rect x="667.98" y="314.6" width="2.3" height="12.2" fill="#f7861b"/><rect x="671.19" y="326.6" width="2.3" height="21" fill="#f7861b"/><rect x="674.39" y="339.5" width="2.3" height="8.1" fill="#ffffff"/><rect x="677.6" y="339.8" width="2.3" height="14.8" fill="#f7861b"/><rect x="680.8" y="350.8" width="2.3" height="4.4" fill="#ffffff"/></g>
<line x1="81.7" y1="166.4" x2="255.8" y2="205.3" stroke="#f59200" stroke-width="1.3"/>
<line x1="81.7" y1="252.9" x2="255.8" y2="292.2" stroke="#f59200" stroke-width="1.3"/>
<path d="M94.65 137.2 h7.5 v7 h3.3 l-7.05 8 l-7.05 -8 h3.3 z" fill="#d2303f"/>
<path d="M264.85 48 h7.5 v7 h3.3 l-7.05 8 l-7.05 -8 h3.3 z" fill="#d2303f"/>
<path d="M363.95 48 h7.5 v7 h3.3 l-7.05 8 l-7.05 -8 h3.3 z" fill="#d2303f"/>
<path d="M530.75 38 h7.5 v7 h3.3 l-7.05 8 l-7.05 -8 h3.3 z" fill="#d2303f"/>
<path d="M476.45 104.8 h7.5 v7 h3.3 l-7.05 8 l-7.05 -8 h3.3 z" fill="#d2303f"/>
<path d="M601.25 109 h7.5 v7 h3.3 l-7.05 8 l-7.05 -8 h3.3 z" fill="#d2303f"/>
<path d="M197.5 301 l7.05 8 h-3.3 v7 h-7.5 v-7 h-3.3 z" fill="#089981"/>
<path d="M425.5 215 l7.05 8 h-3.3 v7 h-7.5 v-7 h-3.3 z" fill="#089981"/>
<path d="M502.5 206.8 l7.05 8 h-3.3 v7 h-7.5 v-7 h-3.3 z" fill="#089981"/>
<path d="M572.7 251 l7.05 8 h-3.3 v7 h-7.5 v-7 h-3.3 z" fill="#089981"/>
<line x1="7.3" y1="351" x2="931" y2="351" stroke="#c47a10" stroke-width="1.1" stroke-dasharray="1.2 2.8"/>
<rect x="964.1" y="19" width="1.25" height="433" fill="#7a4600"/>
<rect x="7" y="433.1" width="1010" height="1.2" fill="#7a4600"/>
<text class="lg" y="31.3"> <tspan x="12.1" textLength="24.2" lengthAdjust="spacingAndGlyphs">Bitcoin</tspan> <tspan x="40.7" textLength="2.7" lengthAdjust="spacingAndGlyphs">/</tspan> <tspan x="46.3" textLength="14.2" lengthAdjust="spacingAndGlyphs">U.S.</tspan> <tspan x="64" textLength="21.6" lengthAdjust="spacingAndGlyphs">Dollar</tspan> <tspan x="88" textLength="1.8" lengthAdjust="spacingAndGlyphs">·</tspan> <tspan x="93.8" textLength="8.8" lengthAdjust="spacingAndGlyphs">1D</tspan> <tspan x="105.4" textLength="1.8" lengthAdjust="spacingAndGlyphs">·</tspan> <tspan x="110.8" textLength="21.2" lengthAdjust="spacingAndGlyphs">INDEX</tspan> </text>
<text class="lg" x="136.8" y="31.3" textLength="4.3" lengthAdjust="spacingAndGlyphs">O</text>
<text class="lv" x="141.6" y="31.3" textLength="36.5" lengthAdjust="spacingAndGlyphs">91,495.94</text>
<text class="lg" x="182.8" y="31.3" textLength="4.7" lengthAdjust="spacingAndGlyphs">H</text>
<text class="lv" x="188" y="31.3" textLength="36.2" lengthAdjust="spacingAndGlyphs">93,068.65</text>
<text class="lg" x="229" y="31.3" textLength="3.5" lengthAdjust="spacingAndGlyphs">L</text>
<text class="lv" x="233" y="31.3" textLength="35.8" lengthAdjust="spacingAndGlyphs">91,153.50</text>
<text class="lg" x="273.3" y="31.3" textLength="4.8" lengthAdjust="spacingAndGlyphs">C</text>
<text class="lv" x="278.6" y="31.3" textLength="35" lengthAdjust="spacingAndGlyphs">91,814.21</text>
<text class="lv" x="319" y="31.3" textLength="61.5" lengthAdjust="spacingAndGlyphs">+311.38 (+0.34%)</text>
<text class="lg" x="386" y="31.3" textLength="10.5" lengthAdjust="spacingAndGlyphs">Vol</text>
<text class="lv" x="396.3" y="31.3" textLength="22" lengthAdjust="spacingAndGlyphs">5.41 K</text>
<text class="lg" x="12" y="42.8" style="font-size:7.6px" textLength="5" lengthAdjust="spacingAndGlyphs">Ø</text>
<text class="lr" x="22.6" y="42.8" textLength="35.6" lengthAdjust="spacingAndGlyphs">93,068.65</text>
<text class="lr" x="63" y="42.8" textLength="36" lengthAdjust="spacingAndGlyphs">91,153.50</text>
<text class="lr" x="103.8" y="42.8" textLength="35.2" lengthAdjust="spacingAndGlyphs">91,814.21</text>
<rect x="967.3" y="20.8" width="47.6" height="18" rx="2" ry="2" fill="#0c0c0c" stroke="#353535" stroke-width="0.8"/>
<text x="973.4" y="32.8" style="font-size:7.6px;fill:#ececec;stroke:#ececec;stroke-width:0.3px" textLength="14.2" lengthAdjust="spacingAndGlyphs">USD</text>
<text class="ax" x="971" y="71.2" textLength="39.6" lengthAdjust="spacingAndGlyphs">125,000.00</text>
<text class="ax" x="971" y="108.7" textLength="39.6" lengthAdjust="spacingAndGlyphs">120,000.00</text>
<text class="ax" x="971" y="139.6" textLength="39.6" lengthAdjust="spacingAndGlyphs">116,000.00</text>
<text class="ax" x="971" y="172.1" textLength="39.6" lengthAdjust="spacingAndGlyphs">112,000.00</text>
<text class="ax" x="971" y="205.2" textLength="39.6" lengthAdjust="spacingAndGlyphs">108,000.00</text>
<text class="ax" x="971" y="239.2" textLength="39.6" lengthAdjust="spacingAndGlyphs">104,000.00</text>
<text class="ax" x="971" y="266.3" textLength="39.6" lengthAdjust="spacingAndGlyphs">101,000.00</text>
<text class="ax" x="971" y="293.25" textLength="35.2" lengthAdjust="spacingAndGlyphs">98,000.00</text>
<text class="ax" x="971" y="321.8" textLength="35.2" lengthAdjust="spacingAndGlyphs">95,000.00</text>
<text class="ax" x="971" y="396" textLength="35.2" lengthAdjust="spacingAndGlyphs">87,600.00</text>
<text class="ax" x="971" y="418.2" textLength="35.2" lengthAdjust="spacingAndGlyphs">85,600.00</text>
<text class="tx" x="30.7" y="445.9" textLength="13.8" lengthAdjust="spacingAndGlyphs">May</text>
<text class="tx" x="130.3" y="445.9" textLength="12.6" lengthAdjust="spacingAndGlyphs">Jun</text>
<text class="tx" x="226.3" y="445.9" textLength="10" lengthAdjust="spacingAndGlyphs">Jul</text>
<text class="tx" x="325.7" y="445.9" textLength="13.8" lengthAdjust="spacingAndGlyphs">Aug</text>
<text class="tx" x="425" y="445.9" textLength="13.3" lengthAdjust="spacingAndGlyphs">Sep</text>
<text class="tx" x="521.4" y="445.9" textLength="12.6" lengthAdjust="spacingAndGlyphs">Oct</text>
<text class="tx" x="620.7" y="445.9" textLength="13.8" lengthAdjust="spacingAndGlyphs">Nov</text>
<text class="tx" x="717" y="445.9" textLength="13" lengthAdjust="spacingAndGlyphs">Dec</text>
<text class="tx" x="816.4" y="445.9" textLength="18.8" lengthAdjust="spacingAndGlyphs">2026</text>
<text class="tx" x="915.4" y="445.9" textLength="13.3" lengthAdjust="spacingAndGlyphs">Feb</text>
<rect x="931" y="345.4" width="34" height="11.1" rx="1" fill="#ff9800"/>
<text class="pl" x="933.7" y="354.1" textLength="28" lengthAdjust="spacingAndGlyphs" style="font-size:8.5px">BTCUSD</text>
<rect x="980" y="376.2" width="0.9" height="1.6" fill="#9a9a9a" transform="rotate(20 980.4 377)"/>
<rect x="964.7" y="345.4" width="45.3" height="30.5" rx="1" fill="#ff9800"/>
<rect x="964.1" y="345.4" width="1" height="11.1" fill="#cf7a00"/>
<text class="pl" x="971" y="353.7" textLength="34.6" lengthAdjust="spacingAndGlyphs">91,814.21</text>
<text class="pl" x="971" y="363.4" textLength="24" lengthAdjust="spacingAndGlyphs">−2.01%</text>
<text class="pl" x="971" y="372.9" textLength="29.8" lengthAdjust="spacingAndGlyphs" style="fill:#6e4600;stroke:#6e4600">14:37:17</text>
<g><circle cx="682.5" cy="408.1" r="6.9" fill="#0b0b0b" stroke="#9537b3" stroke-width="1.2"/><path d="M684.3 403.6 l-4.6 5.3 h2.6 l-1.5 3.8 l4.7 -5.4 h-2.7 z" fill="#a53fc6"/><circle cx="687" cy="403.4" r="2.5" fill="#000"/><circle cx="687" cy="403.4" r="1.85" fill="#ff3d50"/></g>
<g><circle cx="681.7" cy="424.5" r="7.1" fill="#3a0d15" stroke="#c62a40" stroke-width="1.1"/>
<clipPath id="fc681"><circle cx="681.7" cy="424.5" r="5.5"/></clipPath>
<g clip-path="url(#fc681)">
<rect x="676.2" y="419" width="11" height="11" fill="#fbeeee"/>
<rect x="676.2" y="419" width="11" height="1.6" fill="#ef4b55"/>
<rect x="676.2" y="422.14" width="11" height="1.6" fill="#ef4b55"/>
<rect x="676.2" y="425.28" width="11" height="1.6" fill="#ef4b55"/>
<rect x="676.2" y="428.42" width="11" height="1.6" fill="#ef4b55"/>
<rect x="676.2" y="419" width="6.3" height="6.3" fill="#4b8ff0"/>
<rect x="677.4" y="420.3" width="0.6" height="0.6" fill="#cfe2ff"/>
<rect x="679.1" y="420.3" width="0.6" height="0.6" fill="#cfe2ff"/>
<rect x="680.8" y="420.3" width="0.6" height="0.6" fill="#cfe2ff"/>
<rect x="677.4" y="422" width="0.6" height="0.6" fill="#cfe2ff"/>
<rect x="679.1" y="422" width="0.6" height="0.6" fill="#cfe2ff"/>
<rect x="680.8" y="422" width="0.6" height="0.6" fill="#cfe2ff"/>
<rect x="677.4" y="423.7" width="0.6" height="0.6" fill="#cfe2ff"/>
<rect x="679.1" y="423.7" width="0.6" height="0.6" fill="#cfe2ff"/>
<rect x="680.8" y="423.7" width="0.6" height="0.6" fill="#cfe2ff"/>
</g></g>
<g><circle cx="697.6" cy="424.5" r="7.1" fill="#3a0d15" stroke="#c62a40" stroke-width="1.1"/>
<clipPath id="fc697"><circle cx="697.6" cy="424.5" r="5.5"/></clipPath>
<g clip-path="url(#fc697)">
<rect x="692.1" y="419" width="11" height="11" fill="#fbeeee"/>
<rect x="692.1" y="419" width="11" height="1.6" fill="#ef4b55"/>
<rect x="692.1" y="422.14" width="11" height="1.6" fill="#ef4b55"/>
<rect x="692.1" y="425.28" width="11" height="1.6" fill="#ef4b55"/>
<rect x="692.1" y="428.42" width="11" height="1.6" fill="#ef4b55"/>
<rect x="692.1" y="419" width="6.3" height="6.3" fill="#4b8ff0"/>
<rect x="693.3" y="420.3" width="0.6" height="0.6" fill="#cfe2ff"/>
<rect x="695" y="420.3" width="0.6" height="0.6" fill="#cfe2ff"/>
<rect x="696.7" y="420.3" width="0.6" height="0.6" fill="#cfe2ff"/>
<rect x="693.3" y="422" width="0.6" height="0.6" fill="#cfe2ff"/>
<rect x="695" y="422" width="0.6" height="0.6" fill="#cfe2ff"/>
<rect x="696.7" y="422" width="0.6" height="0.6" fill="#cfe2ff"/>
<rect x="693.3" y="423.7" width="0.6" height="0.6" fill="#cfe2ff"/>
<rect x="695" y="423.7" width="0.6" height="0.6" fill="#cfe2ff"/>
<rect x="696.7" y="423.7" width="0.6" height="0.6" fill="#cfe2ff"/>
</g></g>
<g fill="#e6e6e6"><path d="M8.05 467.1 H16.05 V477.45 H11.9 V471.2 H8.05 Z"/><circle cx="19.5" cy="469.2" r="1.85"/><path d="M22.7 467.1 H28.35 L24.2 477.45 H19.5 Z"/></g>
<text x="33" y="477.45" style="font-size:14.3px;font-weight:bold;fill:#e6e6e6" textLength="82" lengthAdjust="spacingAndGlyphs">TradingView</text>
</svg>
</body>
</html>
